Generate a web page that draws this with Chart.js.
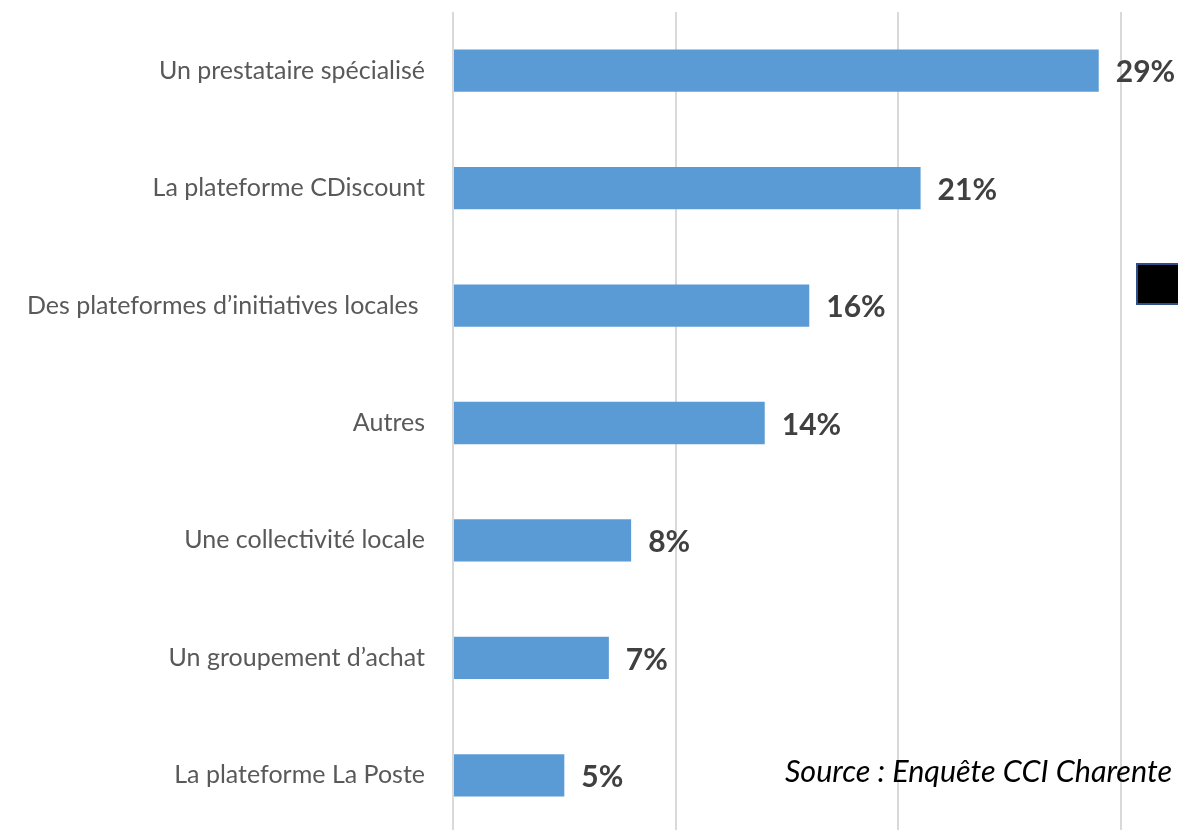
<!DOCTYPE html>
<html lang="fr">
<head>
<meta charset="utf-8">
<script src="https://cdn.jsdelivr.net/npm/chart.js@4.4.1/dist/chart.umd.min.js"></script>
<style>
  html, body { margin: 0; padding: 0; background: #fff; overflow: hidden; }
  #wrap { position: relative; width: 1178px; height: 834px; }
  #marker { position: absolute; left: 1136px; top: 263px; width: 50px; height: 38px; background: #000; border: 2px solid #2f4f8a; }
  #source { position: absolute; right: 6px; top: 752px; font: italic 30.5px Lato, sans-serif; color: #000; }
</style>
</head>
<body>
<div id="wrap">
  <canvas id="barChart"></canvas>
  <div id="marker"></div>
  <div id="source">Source : Enquête CCI Charente</div>
</div>
<script>
const CATEGORIES = [
  'Un prestataire spécialisé',
  'La plateforme CDiscount',
  'Des plateformes d\u2019initiatives locales ',
  'Autres',
  'Une collectivité locale',
  'Un groupement d\u2019achat',
  'La plateforme La Poste',
];
const VALUES = [29, 21, 16, 14, 8, 7, 5];
const X_MAX = 30;
const X_STEP = 10;

// writes "NN%" just past the end of each bar
const valueLabels = {
  id: 'valueLabels',
  afterDatasetsDraw(chart) {
    const { ctx } = chart;
    const meta = chart.getDatasetMeta(0);
    ctx.save();
    ctx.font = 'bold 30px Lato, sans-serif';
    ctx.fillStyle = '#404040';
    ctx.textAlign = 'left';
    ctx.textBaseline = 'middle';
    meta.data.forEach((bar, i) => {
      ctx.fillText(VALUES[i] + '%', bar.x + 17, bar.y + 2);
    });
    ctx.restore();
  },
};

new Chart(document.getElementById('barChart'), {
  type: 'bar',
  data: {
    labels: CATEGORIES,
    datasets: [{ data: VALUES, backgroundColor: '#5b9bd5', categoryPercentage: 1, barPercentage: 0.36 }],
  },
  options: {
    indexAxis: 'y',
    responsive: true,
    maintainAspectRatio: false,
    animation: false,
    layout: { padding: { top: 12, right: 57, bottom: 0, left: 0 } },
    plugins: { legend: { display: false }, tooltip: { enabled: false } },
    scales: {
      x: {
        min: 0,
        max: X_MAX,
        ticks: { display: false, stepSize: X_STEP },
        grid: { color: '#d9d9d9', lineWidth: 2, drawTicks: false },
        border: { display: false },
        afterFit(scale) { scale.height = 0; },
      },
      y: {
        ticks: { color: '#595959', font: { family: 'Lato, sans-serif', size: 25 }, padding: 20 },
        grid: { display: false },
        border: { display: false },
        // fixed gutter for the labels; no extra room above/below the first and last rows
        afterFit(scale) {
          scale.width = 453;
          scale.paddingTop = 0;
          scale.paddingBottom = 0;
        },
      },
    },
  },
  plugins: [valueLabels],
});
</script>
</body>
</html>
